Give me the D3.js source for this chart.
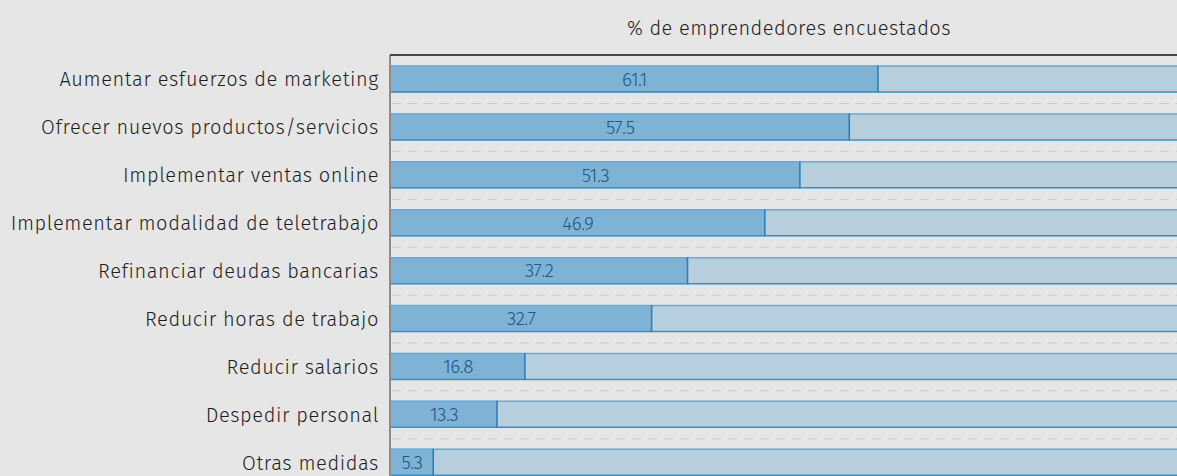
<!DOCTYPE html>
<html>
<head>
<meta charset="utf-8">
<script src="https://cdn.jsdelivr.net/npm/d3@7"></script>
<style>
  html, body { margin: 0; padding: 0; background: #e6e6e6; }
  svg { display: block; font-family: "Fira Sans", "Open Sans", "Noto Sans", sans-serif; }
</style>
</head>
<body>
<svg id="chart"></svg>
<script>
/* data */
const categories = [
  "Aumentar esfuerzos de marketing",
  "Ofrecer nuevos productos/servicios",
  "Implementar ventas online",
  "Implementar modalidad de teletrabajo",
  "Refinanciar deudas bancarias",
  "Reducir horas de trabajo",
  "Reducir salarios",
  "Despedir personal",
  "Otras medidas"
];
const values = [61.1, 57.5, 51.3, 46.9, 37.2, 32.7, 16.8, 13.3, 5.3];
const axisTitle = "% de emprendedores encuestados";

const W = 1177, H = 476;
const svg = d3.select("#chart").attr("width", W).attr("height", H);

const margin = { left: 390, top: 55 };
const x = d3.scaleLinear().domain([0, 100]).range([391, 1188]);
const y = d3.scaleBand()
  .domain(categories)
  .range([55, 486.3])
  .paddingInner(0.436)
  .paddingOuter(0.22);

// frame (top + left)
svg.append("line")
  .attr("x1", margin.left).attr("x2", W)
  .attr("y1", margin.top).attr("y2", margin.top)
  .attr("stroke", "#111").attr("stroke-width", 1.3);
svg.append("line")
  .attr("x1", margin.left).attr("x2", margin.left)
  .attr("y1", margin.top).attr("y2", H)
  .attr("stroke", "#333").attr("stroke-width", 1);

// dashed separators between bars
const sepY = d => y(d) + y.bandwidth() + y.step() * y.paddingInner() / 2 + 0.5;
svg.append("g").selectAll("line")
  .data(categories.slice(0, -1))
  .join("line")
  .attr("x1", margin.left + 2).attr("x2", W)
  .attr("y1", sepY)
  .attr("y2", sepY)
  .attr("stroke", "#cbcbcb")
  .attr("stroke-width", 1)
  .attr("stroke-dasharray", "9,7");

const rows = svg.append("g").selectAll("g")
  .data(categories)
  .join("g");

// background (100%) bar
rows.append("rect")
  .attr("x", x(0))
  .attr("y", d => y(d))
  .attr("width", x(100) - x(0))
  .attr("height", y.bandwidth())
  .attr("fill", "#b7cedc");

// value bar
rows.append("rect")
  .attr("x", x(0))
  .attr("y", d => y(d))
  .attr("width", (d, i) => x(values[i]) - x(0))
  .attr("height", y.bandwidth())
  .attr("fill", "#7fb3d5");

// top and bottom edges
rows.append("line")
  .attr("x1", x(0)).attr("x2", x(100))
  .attr("y1", d => y(d) + 0.5).attr("y2", d => y(d) + 0.5)
  .attr("stroke", "#6aaad4").attr("stroke-width", 1.5);
rows.append("line")
  .attr("x1", x(0)).attr("x2", x(100))
  .attr("y1", d => y(d) + y.bandwidth() - 0.5).attr("y2", d => y(d) + y.bandwidth() - 0.5)
  .attr("stroke", "#3a90c8").attr("stroke-width", 1.5);

// divider at value end
rows.append("line")
  .attr("x1", (d, i) => x(values[i])).attr("x2", (d, i) => x(values[i]))
  .attr("y1", d => y(d)).attr("y2", d => y(d) + y.bandwidth())
  .attr("stroke", "#2a7fbd").attr("stroke-width", 1.6);

// value labels
rows.append("text")
  .attr("x", (d, i) => (x(0) + x(values[i])) / 2)
  .attr("y", d => y(d) + y.bandwidth() / 2)
  .attr("dy", "0.36em")
  .attr("text-anchor", "middle")
  .attr("font-size", 19)
  .attr("font-weight", 300)
  .attr("letter-spacing", -0.5)
  .attr("fill", "#1d5888")
  .text((d, i) => values[i].toFixed(1));

// category labels
svg.append("g").selectAll("text")
  .data(categories)
  .join("text")
  .attr("x", 379)
  .attr("y", d => y(d) + y.bandwidth() / 2)
  .attr("dy", "0.37em")
  .attr("text-anchor", "end")
  .attr("font-size", 20)
  .attr("font-weight", 300)
  .attr("letter-spacing", 0.6)
  .attr("fill", "#1e1e1e")
  .text(d => d);

// axis title
svg.append("text")
  .attr("x", 789)
  .attr("y", 35)
  .attr("text-anchor", "middle")
  .attr("font-size", 20)
  .attr("font-weight", 300)
  .attr("letter-spacing", 0.5)
  .attr("fill", "#1e1e1e")
  .text(axisTitle);
</script>
</body>
</html>
